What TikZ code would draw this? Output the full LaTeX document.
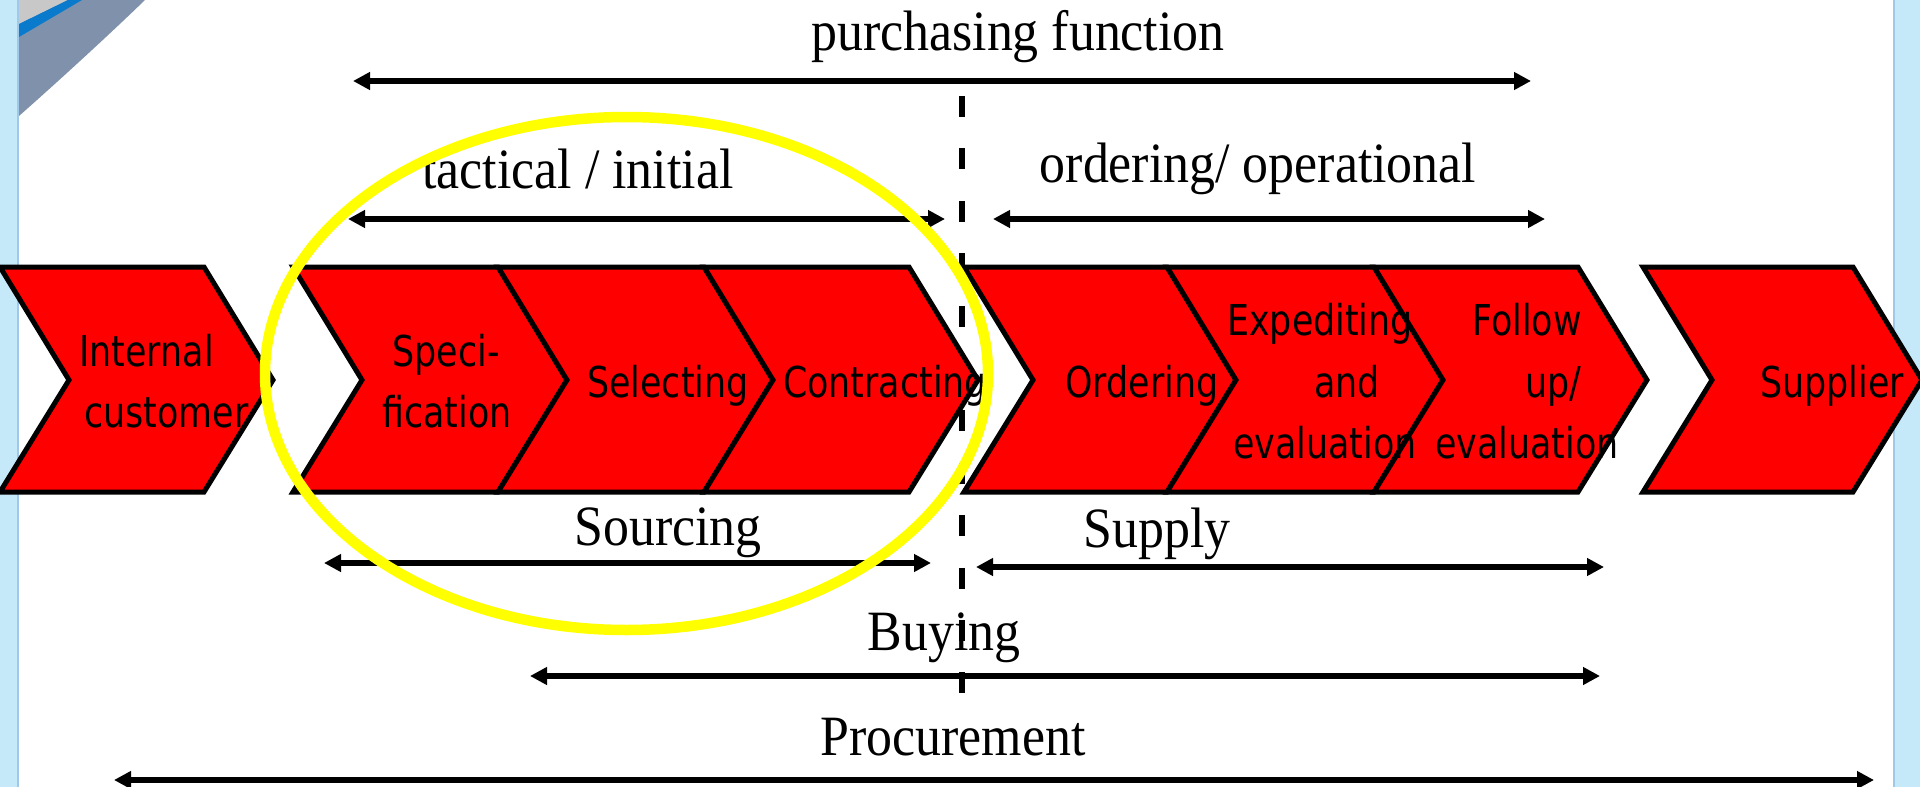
\documentclass[tikz,border=0pt]{standalone}
\usepackage{fontspec}
\setmainfont[FakeStretch=0.91]{Liberation Serif}
\newfontfamily\chevfont[FakeStretch=0.82]{DejaVu Sans}
\usetikzlibrary{arrows.meta}
\definecolor{stripblue}{RGB}{198,233,250}
\definecolor{stripedge}{RGB}{160,200,232}
\definecolor{slate}{RGB}{128,146,171}
\definecolor{swooshblue}{RGB}{10,122,204}
\definecolor{swooshgray}{RGB}{200,200,200}
\definecolor{chevred}{RGB}{255,0,0}
\definecolor{ringyellow}{RGB}{255,255,0}
\tikzset{
 chevbox/.style={fill=chevred, draw=black, line width=5pt, line join=miter},
 chevtext/.style={font=\chevfont\fontsize{42.5}{50}\selectfont, inner sep=0pt, anchor=base, text=black},
 lbl/.style={font=\fontsize{57}{60}\selectfont, inner sep=0pt, anchor=base, text=black},
 spanarrow/.style={line width=5.5pt, {Triangle[length=17pt,width=17pt]}-{Triangle[length=17pt,width=17pt]}},
 divline/.style={line width=6pt, dash pattern=on 21pt off 31.4pt},
 ringstyle/.style={draw=ringyellow, line width=10.5pt},
}
\newcommand\mychev[2]{\draw[chevbox] (#1,267) -- (#2,267) -- ({#2+69},380) -- (#2,492) -- (#1,492) -- ({#1+69},380) -- cycle;}
\begin{document}
\begin{tikzpicture}[x=1pt,y=-1pt]
\useasboundingbox (0,0) rectangle (1920,787);
\fill[white] (0,0) rectangle (1920,787);
% side strips
\fill[stripblue] (0,0) rectangle (17,787);
\fill[stripedge] (17,0) rectangle (19,787);
\fill[stripblue] (1895,0) rectangle (1920,787);
\fill[stripedge] (1893,0) rectangle (1895,787);
% top-left swoosh
\fill[slate] (19,0) -- (145,0) .. controls (112,32) and (62,78) .. (19,116) -- cycle;
\fill[swooshgray] (19,0) -- (68,0) -- (19,24) -- cycle;
\fill[swooshblue] (19,24) -- (68,0) -- (82,0) -- (19,37) -- cycle;

% labels
\node[lbl] (pf) at (1018,50) {purchasing function};
\node[lbl] (ti) at (578,188) {tactical / initial};
\node[lbl] (oo) at (1258,182) {ordering/ operational};
\node[lbl] (so) at (668,545) {Sourcing};
\node[lbl] (su) at (1157,547) {Supply};
\node[lbl] (bu) at (944,650) {Buying};
\node[lbl] (pr) at (953,755) {Procurement};

% span arrows
\coordinate (pfL) at (353,81);  \coordinate (pfR) at (1531,81);
\coordinate (tiL) at (348,219); \coordinate (tiR) at (945,219);
\coordinate (ooL) at (993,219); \coordinate (ooR) at (1545,219);
\coordinate (soL) at (324,563); \coordinate (soR) at (931,563);
\coordinate (suL) at (976,567); \coordinate (suR) at (1604,567);
\coordinate (buL) at (530,676); \coordinate (buR) at (1600,676);
\coordinate (prL) at (114,780); \coordinate (prR) at (1874,780);
\draw[spanarrow] (pfL) -- (pfR);
\draw[spanarrow] (tiL) -- (tiR);
\draw[spanarrow] (ooL) -- (ooR);
\draw[spanarrow] (soL) -- (soR);
\draw[spanarrow] (suL) -- (suR);
\draw[spanarrow] (buL) -- (buR);
\draw[spanarrow] (prL) -- (prR);

% dashed divider
\coordinate (dvT) at (962,96); \coordinate (dvB) at (962,694);
\draw[divline] (dvT) -- (dvB);

% chevrons
\mychev{0}{204}
\mychev{293}{498}
\mychev{498}{704}
\mychev{704}{909}
\mychev{964}{1167}
\mychev{1167}{1374}
\mychev{1374}{1578}
\mychev{1643}{1853}

% chevron texts
\node[chevtext] (ic1) at (146.5,366) {Internal};
\node[chevtext] (ic2) at (166.5,427) {customer};
\node[chevtext] (sp1) at (446,366) {Speci-};
\node[chevtext] (sp2) at (447,427) {fication};
\node[chevtext] (se) at (668,397) {Selecting};
\node[chevtext] (co) at (885,397) {Contracting};
\node[chevtext] (or) at (1142,397) {Ordering};
\node[chevtext] (ex1) at (1320,335) {Expediting};
\node[chevtext] (ex2) at (1347,397) {and};
\node[chevtext] (ex3) at (1325,458) {evaluation};
\node[chevtext] (fo1) at (1527,335) {Follow};
\node[chevtext] (fo2) at (1553,397) {up/};
\node[chevtext] (fo3) at (1527,458) {evaluation};
\node[chevtext] (sl) at (1832,397) {Supplier};

% yellow ring
\draw[ringstyle] (626.5,373.5) ellipse [x radius=361.5, y radius=256.5];
\end{tikzpicture}
\end{document}
